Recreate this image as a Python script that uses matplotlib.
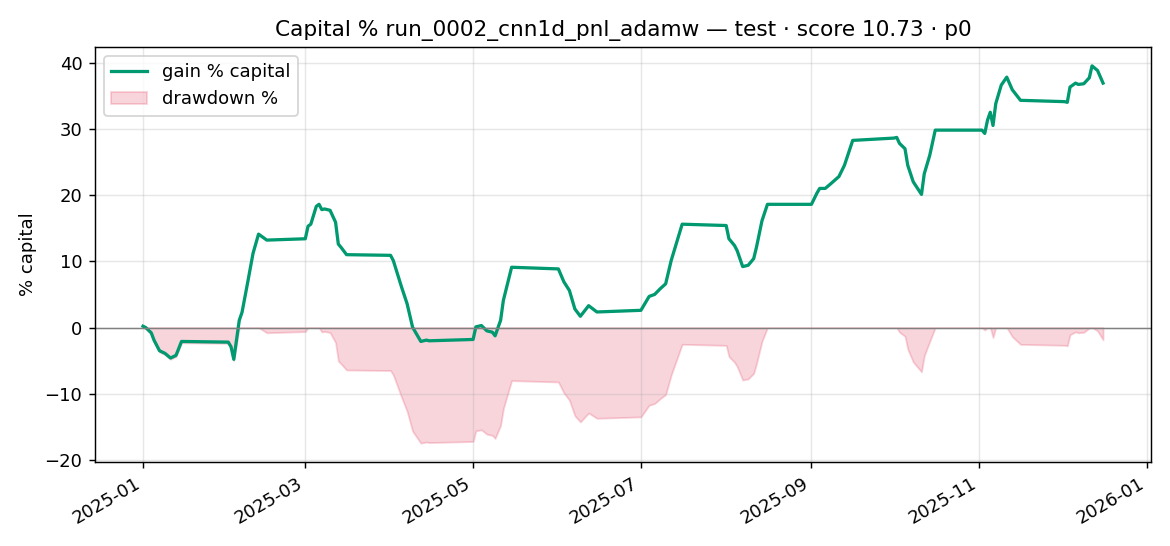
import numpy as np
import pandas as pd
import matplotlib
matplotlib.use("Agg")
import matplotlib.pyplot as plt

# gain % of capital
dates = [
    "2025-01-01", "2025-01-02", "2025-01-04", "2025-01-05", "2025-01-07", "2025-01-09",
    "2025-01-11", "2025-01-13", "2025-01-15", "2025-02-01", "2025-02-02", "2025-02-03",
    "2025-02-05", "2025-02-06", "2025-02-08", "2025-02-10", "2025-02-12", "2025-02-13",
    "2025-02-15", "2025-03-01", "2025-03-02", "2025-03-03", "2025-03-05", "2025-03-06",
    "2025-03-07", "2025-03-08", "2025-03-10", "2025-03-12", "2025-03-13", "2025-03-14",
    "2025-03-16", "2025-04-01", "2025-04-02", "2025-04-05", "2025-04-07", "2025-04-09",
    "2025-04-12", "2025-04-14", "2025-04-15", "2025-05-01", "2025-05-02", "2025-05-04",
    "2025-05-06", "2025-05-08", "2025-05-09", "2025-05-11", "2025-05-12", "2025-05-15",
    "2025-06-01", "2025-06-03", "2025-06-05", "2025-06-07", "2025-06-09", "2025-06-12",
    "2025-06-15", "2025-07-01", "2025-07-04", "2025-07-06", "2025-07-08", "2025-07-10",
    "2025-07-12", "2025-07-16", "2025-08-01", "2025-08-02", "2025-08-04", "2025-08-05",
    "2025-08-07", "2025-08-09", "2025-08-11", "2025-08-12", "2025-08-14", "2025-08-16",
    "2025-09-01", "2025-09-03", "2025-09-04", "2025-09-06", "2025-09-08", "2025-09-11",
    "2025-09-13", "2025-09-16", "2025-10-01", "2025-10-02", "2025-10-03", "2025-10-05",
    "2025-10-06", "2025-10-08", "2025-10-11", "2025-10-12", "2025-10-14", "2025-10-16",
    "2025-11-02", "2025-11-03", "2025-11-04", "2025-11-05", "2025-11-06", "2025-11-07",
    "2025-11-09", "2025-11-11", "2025-11-13", "2025-11-16", "2025-12-02", "2025-12-03",
    "2025-12-04", "2025-12-06", "2025-12-07", "2025-12-09", "2025-12-11", "2025-12-12",
    "2025-12-14", "2025-12-16",
]
gain = [
    0.2, 0.0, -0.8, -1.9, -3.5, -3.9,
    -4.6, -4.2, -2.1, -2.2, -2.9, -4.8,
    1.1, 2.3, 6.7, 11.2, 14.1, 13.8,
    13.2, 13.4, 15.3, 15.6, 18.3, 18.6,
    17.8, 17.9, 17.7, 15.9, 12.6, 12.1,
    11.0, 10.9, 10.1, 6.1, 3.6, 0.05,
    -2.1, -1.9, -2.0, -1.8, 0.1, 0.3,
    -0.5, -0.7, -1.25, 1.1, 4.1, 9.1,
    8.85, 6.9, 5.6, 2.8, 1.7, 3.3,
    2.35, 2.6, 4.7, 5.0, 5.85, 6.6,
    10.1, 15.6, 15.4, 13.4, 12.4, 11.6,
    9.2, 9.4, 10.4, 12.1, 16.1, 18.6,
    18.6, 20.3, 21.0, 21.0, 21.7, 22.8,
    24.5, 28.25, 28.6, 28.7, 27.8, 27.0,
    24.5, 22.0, 20.1, 23.2, 26.0, 29.8,
    29.8, 29.3, 31.3, 32.5, 30.5, 33.8,
    36.6, 37.8, 35.9, 34.3, 34.1, 34.0,
    36.3, 36.9, 36.7, 36.8, 37.7, 39.5,
    38.8, 36.9,
]

x = pd.to_datetime(dates)
g = np.array(gain)
equity = 1 + g / 100
dd = (equity / np.maximum.accumulate(equity) - 1) * 100

fig, ax = plt.subplots(figsize=(9, 4.2), dpi=130)

ax.plot(x, g, color="#009970", lw=1.8, label="gain % capital")
ax.fill_between(x, dd, 0, color="crimson", alpha=0.18, label="drawdown %")
ax.axhline(0, color="gray", lw=0.8)

ax.set_title("Capital % run_0002_cnn1d_pnl_adamw — test · score 10.73 · p0")
ax.set_ylabel("% capital")
ax.grid(alpha=0.3)
ax.legend(loc="upper left")
fig.autofmt_xdate(bottom=0.1538)
fig.subplots_adjust(left=0.0812, right=0.9838, top=0.9139, bottom=0.1538)

fig.savefig("out.png")
